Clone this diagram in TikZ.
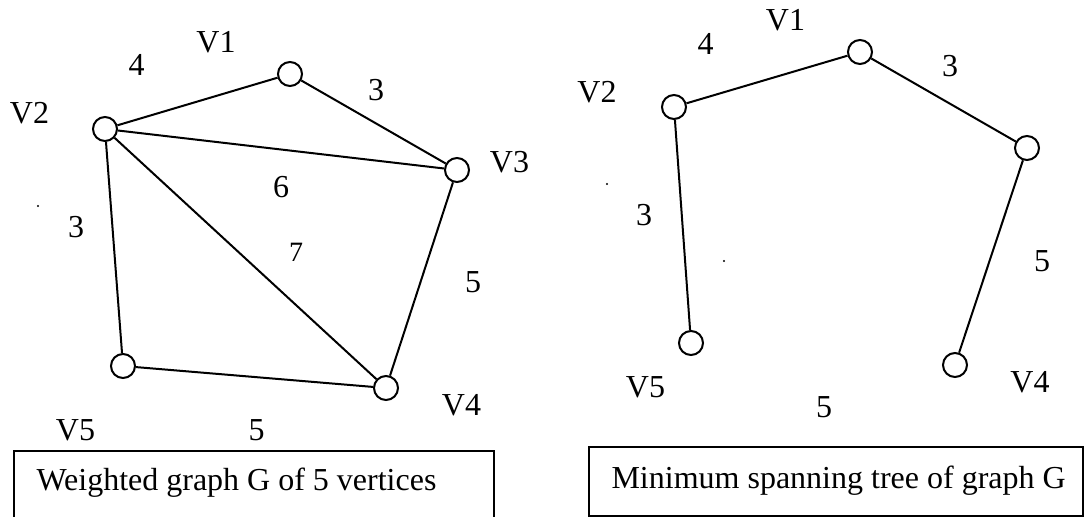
\documentclass[tikz,border=0pt]{standalone}
\usepackage{fontspec}
\setmainfont{Liberation Serif}
\begin{document}
\begin{tikzpicture}[x=0.375pt,y=-0.375pt,
  vert/.style={circle,draw,line width=0.75pt,minimum size=9pt,inner sep=0pt},
  edge/.style={line width=0.75pt},
  lbl/.style={anchor=base,inner sep=0pt,font=\fontsize{12}{14}\selectfont},
  smalllbl/.style={anchor=base,inner sep=0pt,font=\fontsize{10.5}{12}\selectfont},
  capbox/.style={draw,line width=0.75pt}]
\useasboundingbox (0,0) rectangle (1084,517);
% ---------- left graph ----------
\node[vert] (a1) at (290,74) {};
\node[vert] (a2) at (105,129) {};
\node[vert] (a3) at (457,170) {};
\node[vert] (a4) at (386,388) {};
\node[vert] (a5) at (123,366) {};
\draw[edge] (a2) -- (a1);
\draw[edge] (a1) -- (a3);
\draw[edge] (a2) -- (a3);
\draw[edge] (a2) -- (a4);
\draw[edge] (a2) -- (a5);
\draw[edge] (a3) -- (a4);
\draw[edge] (a5) -- (a4);
\node[lbl] (la1) at (216,53) {V1};
\node[lbl] (la2) at (29.5,124) {V2};
\node[lbl] (la3) at (509.5,172) {V3};
\node[lbl] (la4) at (461.5,415) {V4};
\node[lbl] (la5) at (75.5,440) {V5};
\node[lbl] (wa12) at (136.5,76) {4};
\node[lbl] (wa13) at (376,101) {3};
\node[lbl] (wa23) at (281,197) {6};
\node[smalllbl] (wa24) at (296,261) {7};
\node[lbl] (wa34) at (473,292) {5};
\node[lbl] (wa25) at (76,237) {3};
\node[lbl] (wa45) at (256.5,440) {5};
\fill (38,206) circle[radius=0.45pt];
\draw[capbox] (14,451) rectangle (494,530);
\node[anchor=base west,inner sep=0pt,font=\fontsize{12}{14}\selectfont] (capa) at (36,490) {Weighted graph G of 5 vertices};
% ---------- right graph (MST) ----------
\node[vert] (b1) at (860,52) {};
\node[vert] (b2) at (674,107) {};
\node[vert] (b3) at (1027,148) {};
\node[vert] (b4) at (955,365) {};
\node[vert] (b5) at (691,343) {};
\draw[edge] (b2) -- (b1);
\draw[edge] (b1) -- (b3);
\draw[edge] (b2) -- (b5);
\draw[edge] (b3) -- (b4);
\node[lbl] (lb1) at (785.5,31) {V1};
\node[lbl] (lb2) at (597,103) {V2};
\node[lbl] (lb4) at (1030,392) {V4};
\node[lbl] (lb5) at (645.5,397) {V5};
\node[lbl] (wb12) at (705.5,55) {4};
\node[lbl] (wb13) at (950,77) {3};
\node[lbl] (wb34) at (1042,271) {5};
\node[lbl] (wb25) at (644,225) {3};
\node[lbl] (wb45) at (824,417) {5};
\fill (607,184) circle[radius=0.45pt];
\fill (724,261) circle[radius=0.45pt];
\draw[capbox] (589,447) rectangle (1083,516);
\node[anchor=base west,inner sep=0pt,font=\fontsize{12}{14}\selectfont] (capb) at (611,488) {Minimum spanning tree of graph G};
\end{tikzpicture}
\end{document}
